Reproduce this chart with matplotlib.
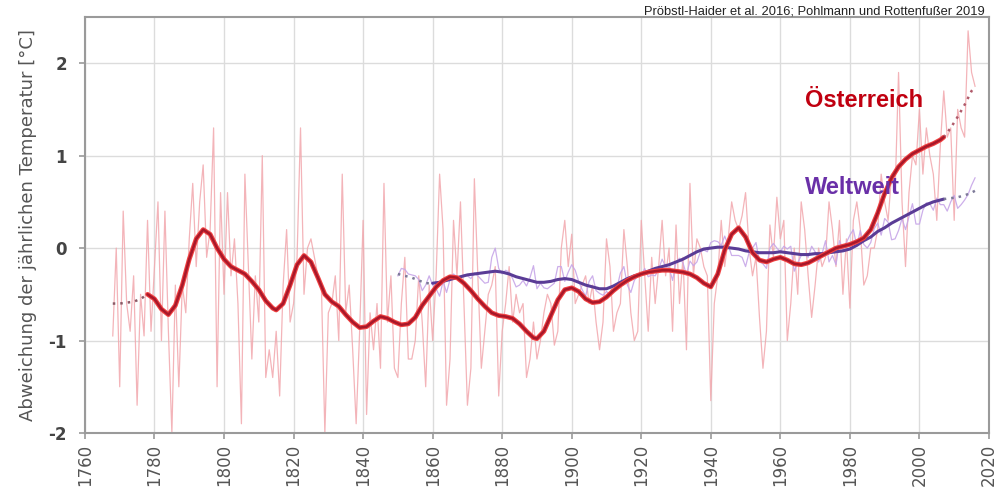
import numpy as np
import matplotlib
matplotlib.use("Agg")
import matplotlib.pyplot as plt

# annual anomalies, Austria 1768-2016
at_years = list(range(1768, 2017))
at_annual = [
    -0.95, 0.0, -1.5, 0.4, -0.6, -0.9, -0.3, -1.7, -0.5, -0.95,
    0.3, -0.9, -0.2, 0.5, -1.0, 0.4, -0.9, -2.0, -0.4, -1.5,
    -0.4, -0.7, 0.1, 0.7, -0.2, 0.5, 0.9, -0.1, 0.2, 1.3,
    -1.5, 0.6, -0.5, 0.6, -0.3, 0.1, -0.6, -1.9, 0.8, -0.2,
    -1.2, -0.3, -0.8, 1.0, -1.4, -1.1, -1.4, -0.9, -1.6, -0.4,
    0.2, -0.8, -0.6, -0.1, 1.3, -0.5, 0.0, 0.1, -0.1, -0.3,
    -0.4, -2.0, -0.7, -0.6, -0.3, -1.0, 0.8, -0.7, -0.4, -1.1,
    -1.9, -0.9, 0.3, -1.8, -0.7, -1.1, -0.6, -1.3, 0.7, -0.8,
    -0.3, -1.3, -1.4, -0.6, -0.1, -1.2, -1.2, -1.0, -0.3, -0.8,
    -1.5, -0.4, -1.0, -0.3, 0.8, 0.2, -1.7, -1.2, 0.3, -0.3,
    0.5, -0.6, -1.7, -1.3, 0.75, -0.3, -1.3, -0.9, -0.5, -0.4,
    -0.2, -1.6, -0.9, -0.6, -0.2, -0.8, -0.5, -0.7, -0.6, -1.4,
    -1.2, -0.8, -1.2, -1.0, -0.7, -0.5, -0.6, -1.05, -0.9, 0.0,
    0.3, -0.2, 0.15, -0.6, -0.5, -0.4, -0.3, -0.6, -0.4, -0.8,
    -1.1, -0.8, 0.1, -0.2, -0.9, -0.7, -0.6, 0.2, -0.2, -0.7,
    -1.0, -0.9, 0.3, -0.3, -0.9, -0.1, -0.6, -0.2, 0.3, -0.3,
    0.0, -0.9, 0.25, -0.6, -0.1, -1.1, 0.7, -0.3, 0.1, 0.0,
    -0.2, -0.3, -1.65, -0.6, -0.3, 0.3, -0.2, 0.1, 0.5, 0.3,
    0.2, 0.35, 0.6, 0.0, -0.3, -0.1, -0.75, -1.3, -0.9, 0.25,
    -0.1, 0.55, 0.1, 0.3, -1.0, -0.6, 0.0, -0.5, 0.5, 0.2,
    -0.3, -0.75, -0.4, 0.0, -0.2, -0.1, 0.5, 0.2, -0.2, 0.3,
    -0.5, 0.1, -0.65, 0.3, 0.5, 0.2, -0.4, -0.3, 0.0, 0.0,
    0.2, 0.8, 0.5, 0.3, 0.8, 0.6, 1.9, 0.5, -0.2, 0.6,
    1.0, 0.9, 1.5, 0.8, 1.3, 1.0, 0.8, 0.3, 1.1, 1.7,
    1.2, 1.3, 0.3, 1.5, 1.3, 1.2, 2.35, 1.9, 1.75,
]

# smoothed Austria curve
at_sm_years = [
    1778, 1780, 1782, 1784, 1786, 1788, 1790, 1792, 1794, 1796, 1798, 1800,
    1802, 1804, 1806, 1808, 1810, 1812, 1814, 1815, 1817, 1819, 1821, 1823,
    1825, 1827, 1829, 1831, 1833, 1835, 1837, 1839, 1841, 1843, 1845, 1847,
    1849, 1851, 1853, 1855, 1857, 1859, 1861, 1863, 1865, 1867, 1869, 1871,
    1873, 1875, 1877, 1879, 1881, 1883, 1885, 1887, 1889, 1890, 1892, 1894,
    1896, 1898, 1900, 1902, 1904, 1906, 1908, 1910, 1912, 1914, 1916, 1918,
    1920, 1922, 1924, 1926, 1928, 1930, 1932, 1934, 1936, 1938, 1940, 1942,
    1944, 1946, 1948, 1950, 1952, 1954, 1956, 1958, 1960, 1962, 1964, 1966,
    1968, 1970, 1972, 1974, 1976, 1978, 1980, 1982, 1984, 1986, 1988, 1990,
    1992, 1994, 1996, 1998, 2000, 2002, 2004, 2006, 2007,
]
at_sm_vals = [
    -0.50, -0.55, -0.66, -0.72, -0.62, -0.40, -0.12, 0.10, 0.20, 0.15, 0.00, -0.12,
    -0.20, -0.24, -0.28, -0.36, -0.45, -0.57, -0.65, -0.67, -0.60, -0.40, -0.18, -0.08,
    -0.15, -0.32, -0.50, -0.58, -0.63, -0.72, -0.80, -0.86, -0.85, -0.79, -0.74, -0.76,
    -0.80, -0.83, -0.82, -0.75, -0.62, -0.52, -0.42, -0.35, -0.31, -0.32, -0.38, -0.46,
    -0.55, -0.63, -0.70, -0.73, -0.74, -0.76, -0.82, -0.90, -0.97, -0.98, -0.90, -0.73,
    -0.56, -0.45, -0.43, -0.47, -0.55, -0.59, -0.58, -0.53, -0.46, -0.40, -0.35, -0.31,
    -0.28, -0.26, -0.25, -0.24, -0.24, -0.25, -0.26, -0.28, -0.32, -0.38, -0.42, -0.28,
    -0.02, 0.15, 0.22, 0.12, -0.05, -0.13, -0.15, -0.12, -0.10, -0.13, -0.17, -0.18,
    -0.16, -0.12, -0.08, -0.04, 0.00, 0.02, 0.04, 0.07, 0.11, 0.20, 0.38, 0.59,
    0.76, 0.88, 0.96, 1.02, 1.06, 1.10, 1.13, 1.17, 1.20,
]
at_dot_start_years = [1768, 1770, 1772, 1774, 1776, 1778]
at_dot_start_vals = [-0.60, -0.60, -0.59, -0.58, -0.55, -0.50]
at_dot_end_years = [2007, 2009, 2011, 2013, 2015, 2016]
at_dot_end_vals = [1.20, 1.30, 1.42, 1.55, 1.70, 1.75]

# global annual anomalies 1850-2016
gl_years = list(range(1850, 2017))
gl_annual = [
    -0.30, -0.22, -0.23, -0.28, -0.29, -0.30, -0.34, -0.46, -0.40, -0.30,
    -0.40, -0.44, -0.52, -0.36, -0.48, -0.34, -0.28, -0.31, -0.32, -0.29,
    -0.30, -0.33, -0.27, -0.30, -0.34, -0.38, -0.37, -0.10, 0.00, -0.22,
    -0.28, -0.24, -0.26, -0.33, -0.42, -0.40, -0.35, -0.41, -0.32, -0.19,
    -0.44, -0.38, -0.43, -0.44, -0.41, -0.38, -0.20, -0.20, -0.36, -0.26,
    -0.18, -0.24, -0.36, -0.45, -0.52, -0.36, -0.30, -0.46, -0.49, -0.51,
    -0.47, -0.50, -0.45, -0.43, -0.27, -0.20, -0.40, -0.48, -0.35, -0.30,
    -0.29, -0.22, -0.31, -0.29, -0.30, -0.23, -0.12, -0.20, -0.21, -0.35,
    -0.15, -0.11, -0.16, -0.29, -0.14, -0.19, -0.15, -0.04, -0.02, -0.04,
    0.06, 0.08, 0.07, 0.03, 0.13, 0.03, -0.08, -0.08, -0.08, -0.10,
    -0.20, -0.05, 0.00, 0.06, -0.15, -0.17, -0.22, 0.00, 0.05, 0.00,
    -0.04, 0.02, -0.01, 0.02, -0.25, -0.16, -0.08, -0.06, -0.10, 0.02,
    -0.04, -0.15, -0.06, 0.08, -0.15, -0.08, -0.18, 0.08, -0.02, 0.06,
    0.14, 0.20, 0.02, 0.19, 0.04, 0.00, 0.06, 0.21, 0.27, 0.14,
    0.32, 0.28, 0.09, 0.10, 0.19, 0.32, 0.20, 0.34, 0.48, 0.26,
    0.26, 0.41, 0.49, 0.48, 0.41, 0.54, 0.47, 0.47, 0.40, 0.50,
    0.57, 0.43, 0.47, 0.52, 0.58, 0.68, 0.76,
]

gl_sm_years = [
    1860, 1862, 1864, 1866, 1868, 1870, 1872, 1874, 1876, 1878, 1880, 1882,
    1884, 1886, 1888, 1890, 1892, 1894, 1896, 1898, 1900, 1902, 1904, 1906,
    1908, 1910, 1912, 1914, 1916, 1918, 1920, 1922, 1924, 1926, 1928, 1930,
    1932, 1934, 1936, 1938, 1940, 1942, 1944, 1946, 1948, 1950, 1952, 1954,
    1956, 1958, 1960, 1962, 1964, 1966, 1968, 1970, 1972, 1974, 1976, 1978,
    1980, 1982, 1984, 1986, 1988, 1990, 1992, 1994, 1996, 1998, 2000, 2002,
    2004, 2006, 2007,
]
gl_sm_vals = [
    -0.38, -0.37, -0.35, -0.33, -0.31, -0.29, -0.28, -0.27, -0.26, -0.25, -0.26, -0.28,
    -0.31, -0.33, -0.35, -0.37, -0.37, -0.36, -0.34, -0.33, -0.34, -0.37, -0.40, -0.42,
    -0.44, -0.44, -0.41, -0.37, -0.33, -0.30, -0.28, -0.25, -0.22, -0.20, -0.18, -0.15,
    -0.12, -0.08, -0.04, -0.01, 0.00, 0.01, 0.01, 0.00, -0.01, -0.03, -0.04, -0.05,
    -0.05, -0.05, -0.04, -0.05, -0.06, -0.07, -0.07, -0.06, -0.06, -0.05, -0.04, -0.03,
    -0.01, 0.03, 0.08, 0.12, 0.18, 0.22, 0.27, 0.31, 0.35, 0.39, 0.43, 0.47,
    0.50, 0.52, 0.53,
]
gl_dot_start_years = [1850, 1852, 1854, 1856, 1858, 1860]
gl_dot_start_vals = [-0.28, -0.30, -0.32, -0.35, -0.38, -0.38]
gl_dot_end_years = [2007, 2009, 2011, 2013, 2015, 2016]
gl_dot_end_vals = [0.53, 0.54, 0.55, 0.57, 0.60, 0.62]

x_ticks = list(range(1760, 2021, 20))
y_ticks = [-2, -1, 0, 1, 2]

fig = plt.figure(figsize=(10.03, 4.95), dpi=100)
ax = fig.add_axes([0.0847, 0.1253, 0.9013, 0.8404])

ax.plot(at_years, at_annual, color='#f2a7ad', lw=0.9, alpha=0.85, zorder=2)
ax.plot(gl_years, gl_annual, color='#c7a6e8', lw=0.9, alpha=0.9, zorder=3)

ax.plot(gl_sm_years, gl_sm_vals, color='#5a3c96', lw=2.2, solid_capstyle='round', zorder=4)
ax.plot(gl_dot_start_years, gl_dot_start_vals, color='#7d7a98', lw=1.8, ls=(0, (1, 2)), zorder=4)
ax.plot(gl_dot_end_years, gl_dot_end_vals, color='#7d7a98', lw=1.8, ls=(0, (1, 2)), zorder=4)

ax.plot(at_sm_years, at_sm_vals, color='#f04040', lw=3.4, solid_capstyle='round', zorder=5)
ax.plot(at_sm_years, at_sm_vals, color='#a8182a', lw=1.8, solid_capstyle='round', zorder=6)
ax.plot(at_dot_start_years, at_dot_start_vals, color='#8a5a66', lw=1.8, ls=(0, (1, 2)), zorder=5)
ax.plot(at_dot_end_years, at_dot_end_vals, color='#b05a6a', lw=1.8, ls=(0, (1, 2)), zorder=5)

ax.set_xlim(1760, 2020)
ax.set_ylim(-2, 2.5)
ax.set_xticks(x_ticks)
ax.set_xticklabels([str(t) for t in x_ticks], rotation=90, fontsize=12, color='#555555')
ax.set_yticks(y_ticks)
ax.set_yticklabels([str(t) for t in y_ticks], fontsize=12, color='#444444', fontweight='bold')
ax.tick_params(axis='both', length=4, color='#999999', width=1.2, pad=4)
ax.tick_params(axis='y', pad=9)
ax.grid(True, color='#dcdcdc', lw=1.0, zorder=0)
ax.set_axisbelow(True)
for s in ax.spines.values():
    s.set_color('#9a9a9a')
    s.set_linewidth(1.5)

ax.set_ylabel('Abweichung der jährlichen Temperatur [°C]', fontsize=13, color='#555555', labelpad=8)

ax.text(1967, 1.6, 'Österreich', color='#c00010', fontsize=17, fontweight='bold',
        family='Liberation Sans', va='center', ha='left', zorder=7)
ax.text(1967, 0.65, 'Weltweit', color='#6a30a8', fontsize=17, fontweight='bold',
        family='Liberation Sans', va='center', ha='left', zorder=7)

fig.text(0.982, 0.977, 'Pröbstl-Haider et al. 2016; Pohlmann und Rottenfußer 2019',
         ha='right', va='center', fontsize=9.3, family='Liberation Sans', color='#222222')

fig.savefig('out.png', dpi=100)
